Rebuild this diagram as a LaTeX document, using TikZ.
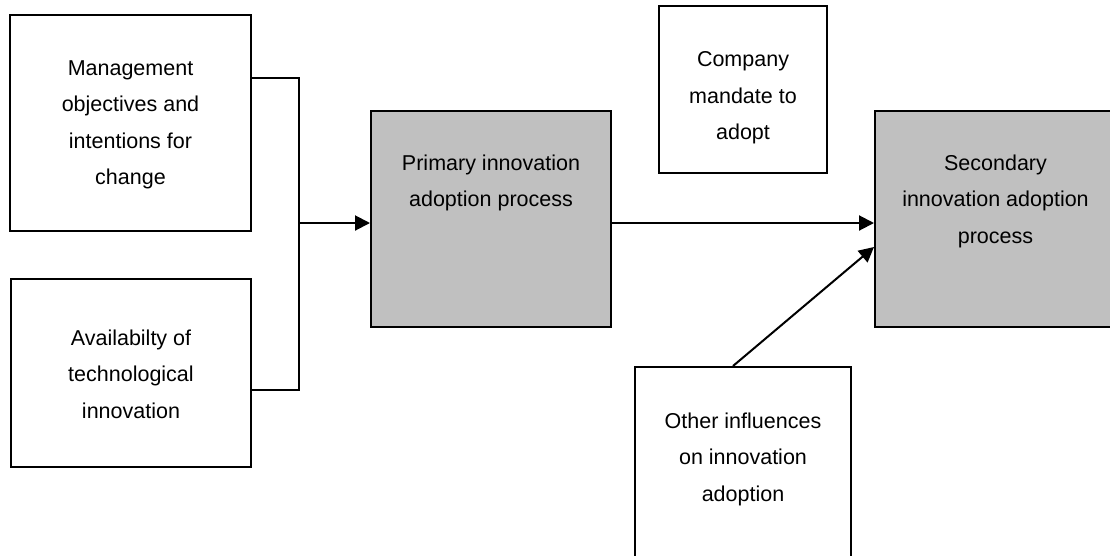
\documentclass[tikz,border=0pt]{standalone}
\usepackage{fontspec}
\setmainfont{Liberation Sans}
\usetikzlibrary{arrows.meta,calc}
\definecolor{boxgrey}{HTML}{C0C0C0}
\tikzset{
  box/.style={draw=black, line width=2pt, inner sep=0pt, minimum width=#1},
  greybox/.style={box=#1, fill=boxgrey},
  lbl/.style={anchor=north, inner sep=0pt, align=center, font=\fontsize{21.5}{36.5}\selectfont},
  conn/.style={draw=black, line width=2pt},
  arr/.style={conn, -{Triangle[length=15pt,width=15pt]}}
}
\begin{document}
\begin{tikzpicture}[x=1pt,y=-1pt]
\clip (0,0) rectangle (1110,555);
\fill[white] (0,0) rectangle (1110,555);
% boxes
\node[box=241pt, minimum height=216pt] (a) at (130.5,123) {};
\node[box=240pt, minimum height=188pt] (b) at (131,373) {};
\node[greybox=240pt, minimum height=216pt] (p) at (491,219) {};
\node[box=168pt, minimum height=167pt] (c) at (743,89.5) {};
\node[greybox=241pt, minimum height=216pt] (s) at (995.5,219) {};
\node[box=216pt, minimum height=233pt] (o) at (743,483.5) {};
% labels
\node[lbl] (ta) at (130.5,60.3) {Management\\objectives and\\intentions for\\change};
\node[lbl] (tb) at (131,329.3) {Availabilty of\\technological\\innovation};
\node[lbl] (tp) at (491,154.3) {Primary innovation\\adoption process};
\node[lbl] (tc) at (743,51.3) {Company\\mandate to\\adopt};
\node[lbl] (ts) at (995.5,154.3) {Secondary\\innovation adoption\\process};
\node[lbl] (to) at (743,412.3) {Other influences\\on innovation\\adoption};
% connectors
\coordinate (j) at (299,223);
\draw[conn] ([yshift=-64pt]a.north east) -| (j);
\draw[conn] ([yshift=-112pt]b.north east) -| (j);
\draw[arr] (j) -- (j -| p.west);
\draw[arr] (p.east |- j) -- (s.west |- j);
\draw[arr] ([xshift=-10pt]o.north) -- ([yshift=-28pt]s.west);
\end{tikzpicture}
\end{document}
